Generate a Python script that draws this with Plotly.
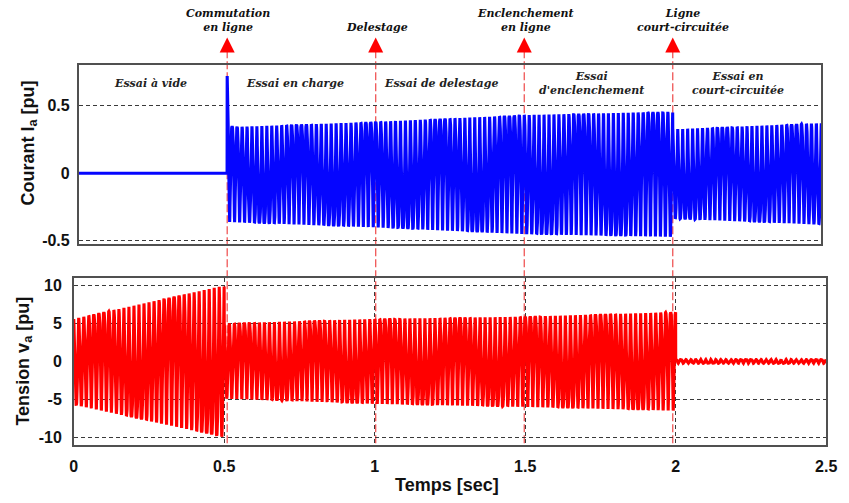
import numpy as np
import plotly.graph_objects as go

# ---------------------------------------------------------------------------
# Test sequence: event instants (s) and their labels
# ---------------------------------------------------------------------------
T_END = 2.5
event_times = [0.5, 1.0, 1.5, 2.0]
event_labels = ["Commutation<br>en ligne", "Delestage",
                "Enclenchement<br>en ligne", "Ligne<br>court-circuitée"]
phase_labels = ["Essai à vide", "Essai en charge", "Essai de delestage",
                "Essai<br>d'enclenchement", "Essai en<br>court-circuitée"]

# Segment boundaries (s)
seg_start = [0.0, 0.5, 1.0, 1.5, 2.0]
seg_end = [0.5, 1.0, 1.5, 2.0, 2.5]

# Current I_a envelope (pu) at start / end of each segment
cur_hi_start = [0.0, 0.34, 0.38, 0.43, 0.325]
cur_hi_end = [0.0, 0.38, 0.43, 0.455, 0.37]
cur_lo_start = [0.0, -0.36, -0.40, -0.45, -0.335]
cur_lo_end = [0.0, -0.40, -0.45, -0.47, -0.38]
cur_switch_peak = 0.72          # first peak after line switching

# Voltage v_a envelope (pu) at start / end of each segment
vol_hi_start = [5.6, 5.0, 5.6, 5.9, 0.25]
vol_hi_end = [10.0, 5.6, 5.9, 6.5, 0.25]
vol_lo_start = [-5.7, -4.9, -5.6, -6.0, -0.25]
vol_lo_end = [-10.0, -5.6, -6.0, -6.5, -0.25]

# Signal parameters
F_LINE = 60.0      # fundamental (Hz)
F_DRIFT = 4.2      # slow waveform-shape drift (Hz)
FS = 3000.0        # sampling rate (Hz)

t = np.arange(0.0, T_END + 0.5 / FS, 1.0 / FS)


def envelope(starts, ends):
    env = np.zeros_like(t)
    for a, b, v0, v1 in zip(seg_start, seg_end, starts, ends):
        m = (t >= a) & (t < b) if b < T_END else (t >= a) & (t <= b)
        env[m] = np.interp(t[m], [a, b], [v0, v1])
    return env


def waveform(hi, lo, drift_phase):
    c = np.cos(2 * np.pi * F_LINE * t)
    k = 1.6 * np.cos(2 * np.pi * F_DRIFT * t + drift_phase)
    p_top, p_bot = np.exp(k), np.exp(-k)
    return np.where(c >= 0, hi * np.abs(c) ** p_top, lo * np.abs(c) ** p_bot)


cur_hi = envelope(cur_hi_start, cur_hi_end)
cur_lo = envelope(cur_lo_start, cur_lo_end)
after = t >= seg_start[1]
cur_hi[after] += (cur_switch_peak - cur_hi_start[1]) * np.exp(-(t[after] - seg_start[1]) / 0.004)
i_a = waveform(cur_hi, cur_lo, -2 * np.pi * F_DRIFT * 2.05)

vol_hi = envelope(vol_hi_start, vol_hi_end)
vol_lo = envelope(vol_lo_start, vol_lo_end)
v_a = waveform(vol_hi, vol_lo, 0.8)

# ---------------------------------------------------------------------------
# Figure
# ---------------------------------------------------------------------------
W, H = 849, 503
BLUE = "#0505ff"
RED = "#ff0000"
GRID = "#3a3a3a"
FRAME = "#505050"


def py(px):
    return 1 - px / H


fig = go.Figure()
fig.add_trace(go.Scatter(x=t, y=i_a, mode="lines", xaxis="x", yaxis="y",
                         line=dict(color=BLUE, width=3.1), hoverinfo="skip"))
fig.add_trace(go.Scatter(x=t, y=v_a, mode="lines", xaxis="x2", yaxis="y2",
                         line=dict(color=RED, width=3.1), hoverinfo="skip"))

tick_font = dict(family="Liberation Sans, Arial, sans-serif", size=16,
                 color="#111", weight="bold")

fig.update_layout(
    width=W, height=H, autosize=False,
    margin=dict(l=0, r=0, t=0, b=0),
    paper_bgcolor="white", plot_bgcolor="white",
    showlegend=False,
    xaxis=dict(domain=[76 / W, 832 / W], range=[0, T_END], anchor="y",
               showgrid=False, zeroline=False, showticklabels=False,
               showline=True, mirror=True, linecolor=FRAME, linewidth=1.5,
               ticks=""),
    yaxis=dict(domain=[py(246), py(65)], range=[-0.52, 0.8], anchor="x",
               tickvals=[-0.5, 0, 0.5], ticktext=["-0.5", "0", "0.5"],
               showgrid=True, gridcolor=GRID, griddash="4px,3px", gridwidth=1,
               zeroline=False, showline=True, mirror=True, linecolor=FRAME,
               linewidth=1.5, ticks="", tickfont=tick_font,
               ticklabelstandoff=4),
    xaxis2=dict(domain=[71 / W, 837 / W], range=[0, T_END], anchor="y2",
                tickvals=[0, 0.5, 1, 1.5, 2, 2.5],
                ticktext=["0", "0.5", "1", "1.5", "2", "2.5"],
                showgrid=True, gridcolor=GRID, griddash="4px,3px", gridwidth=1,
                zeroline=False, showline=True, mirror=True, linecolor=FRAME,
                linewidth=1.5, ticks="", tickfont=tick_font,
                ticklabelstandoff=6),
    yaxis2=dict(domain=[py(450), py(281)], range=[-11, 11], anchor="x2",
                tickvals=[-10, -5, 0, 5, 10],
                ticktext=["-10", "-5", "0", "5", "10"],
                showgrid=True, gridcolor=GRID, griddash="4px,3px", gridwidth=1,
                zeroline=False, showline=True, mirror=True, linecolor=FRAME,
                linewidth=1.5, ticks="", tickfont=tick_font,
                ticklabelstandoff=7),
)

label_font = dict(family="DejaVu Serif, Liberation Serif, serif", size=11,
                  color="#111", weight="bold", style="italic")

# Event markers: dashed red line + arrow head + caption
for i, (te, lab) in enumerate(zip(event_times, event_labels)):
    fig.add_shape(type="line", xref="x", yref="paper", x0=te, x1=te,
                  y0=py(50), y1=py(450), layer="below",
                  line=dict(color="rgba(235,40,40,0.85)", width=1.2, dash="8px,3px"))
    fig.add_annotation(x=te, y=py(37), xref="x", yref="paper", text="",
                       showarrow=True, ax=0, ay=13, axref="pixel", ayref="pixel",
                       arrowhead=2, arrowsize=2.5, arrowwidth=1.2, arrowcolor=RED)
    fig.add_annotation(x=te, y=py(35), xref="x", yref="paper", text=lab,
                       showarrow=False, yanchor="bottom", xanchor="center",
                       xshift=10 if i == 3 else 1, font=label_font)

# Test-phase captions inside the current panel
phase_x = [0.242, 0.727, 1.22, 1.726, 2.219]
for xp, lab in zip(phase_x, phase_labels):
    fig.add_annotation(x=xp, y=py(84), xref="x", yref="paper", text=lab,
                       showarrow=False, yanchor="middle", xanchor="center",
                       font=dict(label_font, color="#222"))

# Axis titles
title_font = dict(family="Liberation Sans, Arial, sans-serif", size=18,
                  color="#111", weight="bold")
fig.add_annotation(x=26 / W, y=py(144), xref="paper", yref="paper",
                   xanchor="center", yanchor="middle",
                   text="Courant I<sub>a</sub> [pu]", textangle=-90,
                   showarrow=False, font=title_font)
fig.add_annotation(x=21 / W, y=py(365), xref="paper", yref="paper",
                   xanchor="center", yanchor="middle",
                   text="Tension v<sub>a</sub> [pu]", textangle=-90,
                   showarrow=False, font=title_font)
fig.add_annotation(x=451 / W, y=py(491), xref="paper", yref="paper",
                   xanchor="center", yanchor="middle",
                   text="Temps [sec]", showarrow=False, font=title_font)

fig.write_html("out.html")
